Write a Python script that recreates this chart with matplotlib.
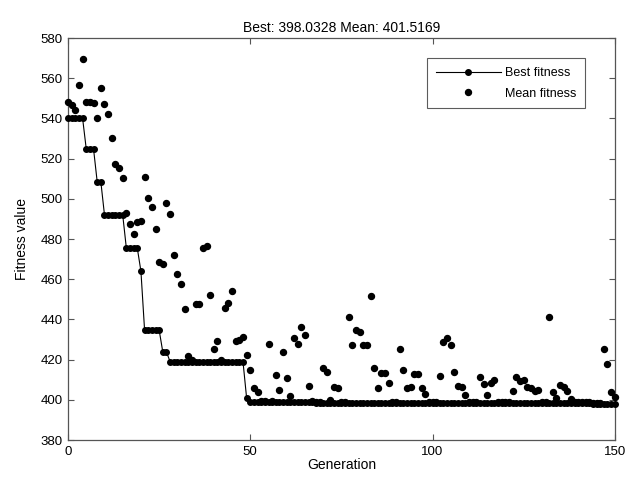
import matplotlib.pyplot as plt
import numpy as np

plt.rcParams['font.family'] = ['Liberation Sans', 'DejaVu Sans']

# best fitness per generation (0..150), read as plateaus
best_steps = [(0, 4, 540.0), (5, 7, 524.8), (8, 9, 508.5), (10, 15, 492.0),
              (16, 19, 475.5), (20, 20, 464.0), (21, 25, 434.7), (26, 27, 423.8),
              (28, 48, 419.0), (49, 49, 400.8), (50, 67, 398.9), (68, 143, 398.5),
              (144, 150, 398.03)]

# mean fitness (gens not listed sit on the best line)
mean_pts = {
    0: 548.0, 1: 546.7, 2: 544.2, 3: 556.6, 4: 569.4, 5: 548.3, 6: 548.0, 7: 547.8,
    8: 540.0, 9: 555.3, 10: 547.2, 11: 542.2, 12: 530.4, 13: 517.3, 14: 515.5,
    15: 510.5, 16: 492.8, 17: 487.5, 18: 482.3, 19: 488.6, 20: 489.1, 21: 511.0,
    22: 500.5, 23: 496.0, 24: 485.0, 25: 468.4, 26: 467.5, 27: 498.0, 28: 492.4,
    29: 472.0, 30: 462.6, 31: 457.6, 32: 445.2, 33: 421.8, 34: 419.6, 35: 447.7,
    36: 447.7, 37: 475.4, 38: 476.5, 39: 452.0, 40: 425.3, 41: 429.3, 42: 419.6,
    43: 445.8, 44: 448.3, 45: 454.0, 46: 429.5, 47: 430.0, 48: 431.1, 49: 422.3,
    50: 414.8, 51: 406.0, 52: 404.0, 55: 428.0, 57: 412.3, 58: 404.9, 59: 423.6,
    60: 411.0, 61: 401.9, 62: 431.0, 63: 427.8, 64: 436.0, 65: 432.2, 66: 406.9,
    70: 415.7, 71: 413.7, 72: 399.9, 73: 406.2, 74: 406.0, 77: 441.0, 78: 427.3,
    79: 434.7, 80: 433.9, 81: 427.3, 82: 427.3, 83: 451.6, 84: 415.7, 85: 405.7,
    86: 413.5, 87: 413.5, 88: 408.5, 91: 425.3, 92: 414.8, 93: 405.7, 94: 406.5,
    95: 412.8, 96: 412.8, 97: 406.0, 98: 403.0, 102: 411.8, 103: 428.9, 104: 430.6,
    105: 427.3, 106: 413.7, 107: 406.9, 108: 406.2, 109: 402.4, 113: 411.5,
    114: 407.9, 115: 402.4, 116: 408.5, 117: 409.9, 122: 404.4, 123: 411.5,
    124: 409.5, 125: 409.9, 126: 406.2, 127: 405.7, 128: 404.5, 129: 404.9,
    132: 441.0, 133: 404.0, 134: 400.7, 135: 407.4, 136: 406.5, 137: 404.5,
    138: 400.5, 147: 425.3, 148: 417.8, 149: 404.0, 150: 401.5,
}

gen = np.arange(0, 151)
best = np.zeros(len(gen))
for a, b, v in best_steps:
    best[a:b + 1] = v
mean = np.array([mean_pts.get(g, best[g] + 0.4) for g in gen])

fig = plt.figure(figsize=(6.27, 4.82), dpi=100)
ax = fig.add_axes([0.1085, 0.0871, 0.872, 0.834])

ax.plot(gen, best, '-', color='k', lw=0.8, marker='o', ms=4.0, mec='k', mfc='k',
        label='Best fitness', clip_on=False, zorder=3)
ax.plot(gen, mean, 'o', color='k', ms=4.3, ls='none', label='Mean fitness',
        clip_on=False, zorder=3)

ax.set_xlim(0, 150)
ax.set_ylim(380, 580)
ax.set_xticks([0, 50, 100, 150])
ax.set_yticks(np.arange(380, 581, 20))
ax.tick_params(direction='in', top=True, right=True, labelsize=9.5, length=4,
               color='#555555', width=0.8, pad=4)
for s in ax.spines.values():
    s.set_color('#555555')
    s.set_linewidth(0.9)

ax.set_xlabel('Generation', fontsize=10, labelpad=0)
ax.set_ylabel('Fitness value', fontsize=10, labelpad=8)
ax.set_title('Best: 398.0328 Mean: 401.5169', fontsize=10, pad=4)

leg = ax.legend(loc='upper right', bbox_to_anchor=(0.945, 0.95), fontsize=9,
                frameon=True, fancybox=False, edgecolor='#333333', borderpad=0.7,
                handlelength=5.2, handletextpad=0.3, labelspacing=0.7,
                borderaxespad=0)
leg.get_frame().set_linewidth(0.8)

fig.savefig('out.png', dpi=100)
